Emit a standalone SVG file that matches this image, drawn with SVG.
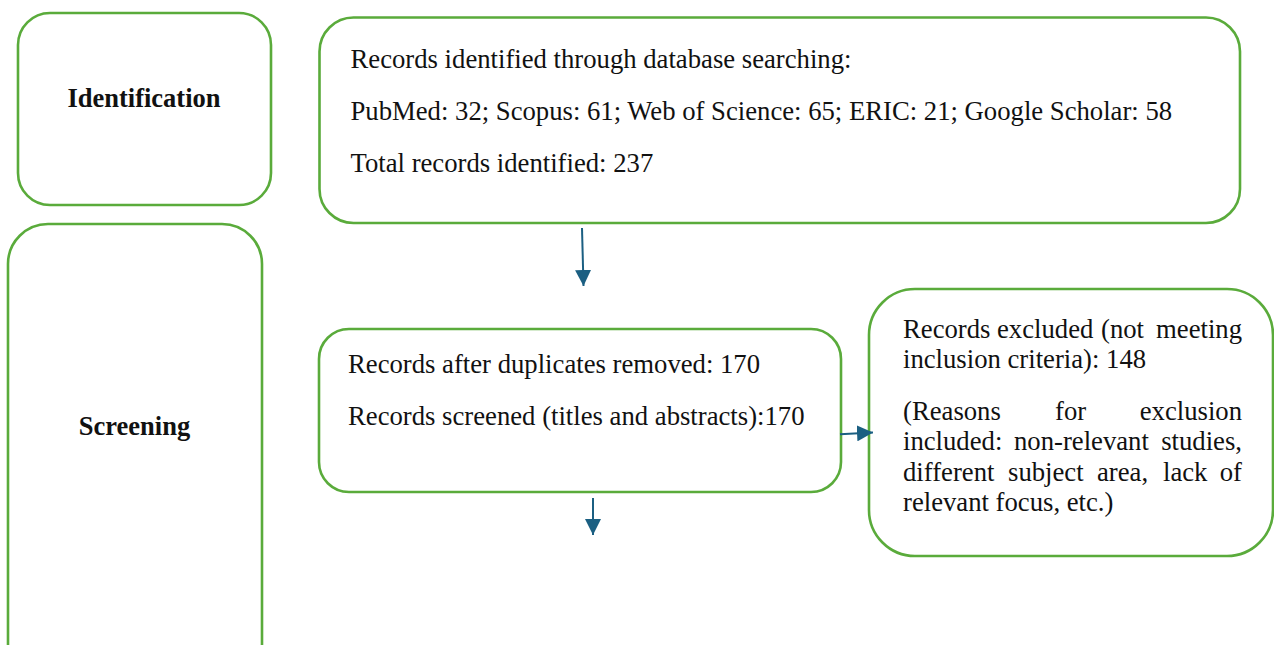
<svg xmlns="http://www.w3.org/2000/svg" width="1274" height="645" viewBox="0 0 1274 645">
  <style>
    .box { fill: #ffffff; stroke: #5aab3b; stroke-width: 2.6; }
    .txt { font-family: "Liberation Serif", "Times New Roman", serif; font-size: 26.7px; fill: #111111; }
    .lbl { font-family: "Liberation Serif", "Times New Roman", serif; font-size: 26.5px; font-weight: bold; fill: #111111; text-anchor: middle; }
    .end { text-anchor: end; }
    .link { stroke: #1b5f82; stroke-width: 2; fill: none; }
  </style>
  <defs>
    <marker id="head" viewBox="0 0 16 16" refX="16" refY="8" markerWidth="16" markerHeight="16" markerUnits="userSpaceOnUse" orient="auto">
      <path d="M0,0 L16,8 L0,16 Z" fill="#1b5f82"/>
    </marker>
  </defs>
  <rect width="1274" height="645" fill="#ffffff"/>

  <!-- stage labels -->
  <g id="identification">
    <rect class="box" x="18" y="13" width="253" height="192" rx="32"/>
    <text class="lbl" x="144" y="107">Identification</text>
  </g>
  <g id="screening">
    <rect class="box" x="8" y="224" width="254" height="460" rx="40"/>
    <text class="lbl" x="134.5" y="435">Screening</text>
  </g>

  <!-- records identified -->
  <g id="identified">
    <rect class="box" x="319.5" y="17.5" width="920.5" height="205.5" rx="34"/>
    <text class="txt" x="350.5" y="68.3">Records identified through database searching:</text>
    <text class="txt" x="350.5" y="120">PubMed: 32; Scopus: 61; Web of Science: 65; ERIC: 21; Google Scholar: 58</text>
    <text class="txt" x="350.5" y="171.7">Total records identified: 237</text>
  </g>

  <!-- records after de-duplication -->
  <g id="screened">
    <rect class="box" x="319" y="329" width="522" height="163" rx="30"/>
    <text class="txt" x="348" y="373">Records after duplicates removed: 170</text>
    <text class="txt" x="348" y="425">Records screened (titles and abstracts):170</text>
  </g>

  <!-- excluded records, justified text -->
  <g id="excluded">
    <rect class="box" x="869" y="289" width="404" height="267" rx="46"/>
    <text class="txt" x="903" y="338">Records</text>
    <text class="txt" x="997" y="338">excluded</text>
    <text class="txt" x="1101" y="338">(not</text>
    <text class="txt end" x="1242" y="338">meeting</text>
    <text class="txt" x="903" y="368">inclusion criteria): 148</text>
    <text class="txt" x="903" y="420">(Reasons</text>
    <text class="txt" x="1055" y="420">for</text>
    <text class="txt end" x="1242" y="420">exclusion</text>
    <text class="txt" x="903" y="450">included:</text>
    <text class="txt" x="1014" y="450">non-relevant</text>
    <text class="txt end" x="1242" y="450">studies,</text>
    <text class="txt" x="903" y="481">different</text>
    <text class="txt" x="1008" y="481">subject</text>
    <text class="txt" x="1097" y="481">area,</text>
    <text class="txt" x="1163" y="481">lack</text>
    <text class="txt end" x="1242" y="481">of</text>
    <text class="txt" x="903" y="511">relevant focus, etc.)</text>
  </g>

  <!-- connectors -->
  <g id="connectors">
    <line class="link" x1="582" y1="228" x2="583.5" y2="286" marker-end="url(#head)"/>
    <line class="link" x1="593" y1="498" x2="593" y2="535" marker-end="url(#head)"/>
    <line class="link" x1="840" y1="434.3" x2="873" y2="432.5" marker-end="url(#head)"/>
  </g>
</svg>
